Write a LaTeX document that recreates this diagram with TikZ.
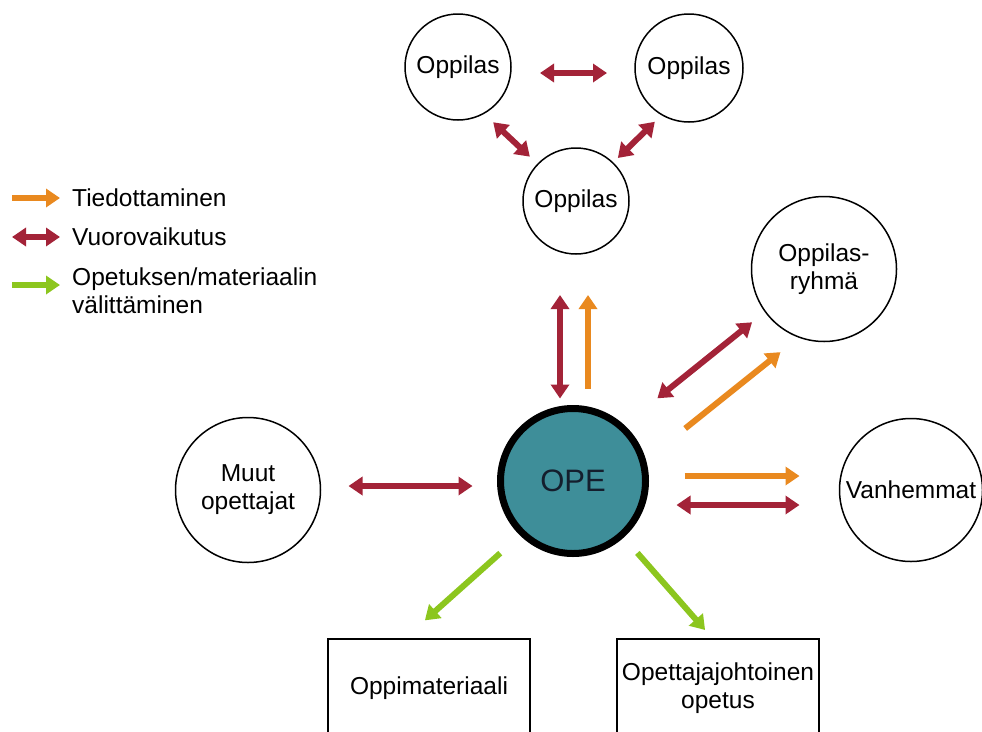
\documentclass[tikz,border=0pt]{standalone}
\usepackage{fontspec}
\setmainfont{Liberation Sans}
\usetikzlibrary{arrows.meta}
\definecolor{infoorange}{RGB}{233,137,31}
\definecolor{intered}{RGB}{163,35,56}
\definecolor{teachgreen}{RGB}{140,198,30}
\definecolor{opeteal}{RGB}{62,142,153}
\definecolor{opetext}{RGB}{20,30,45}
\tikzset{
	circ/.style = {circle, draw, line width = 1.5pt, inner sep = 0pt, outer sep = 0pt, align = center},
	itembox/.style = {rectangle, draw, line width = 1.5pt, minimum width = 202pt, minimum height = 98pt, inner sep = 2pt, outer sep = 0pt, align = center},
	legtext/.style = {anchor = west, inner sep = 0pt, align = left},
	info/.style = {-{Triangle[length = 14pt, width = 18pt]}, line width = 6pt, infoorange},
	inter/.style = {{Triangle[length = 14pt, width = 18pt]}-{Triangle[length = 14pt, width = 18pt]}, line width = 6pt, intered},
	teach/.style = {-{Triangle[length = 14pt, width = 18pt]}, line width = 6pt, teachgreen}
}
\begin{document}
\begin{tikzpicture}[x = 1pt, y = -1pt, font = \fontsize{24.5}{28}\selectfont]
	\useasboundingbox (0,0) rectangle (982,731);
	\clip (0,0) rectangle (982,731);
	% legend
	\node[legtext] (leginfo) at (72,198) {Tiedottaminen};
	\node[legtext] (leginter) at (72,237) {Vuorovaikutus};
	\node[legtext] (legteach) at (72,291) {Opetuksen/materiaalin\\välittäminen};
	\draw[info] ([xshift = -60pt]leginfo.west) -- ([xshift = -12pt]leginfo.west);
	\draw[inter] ([xshift = -60pt]leginter.west) -- ([xshift = -12pt]leginter.west);
	\draw[teach] ([xshift = -60pt, yshift = 6pt]legteach.west) -- ([xshift = -12pt, yshift = 6pt]legteach.west);
	% nodes
	\node[circ, minimum size = 106pt] (opp1) at (458,67) {Oppilas};
	\node[circ, minimum size = 108pt] (opp2) at (689,68) {Oppilas};
	\node[circ, minimum size = 106pt] (opp3) at (576,201) {Oppilas};
	\node[circ, minimum size = 145pt] (ryhma) at (824,269) {Oppilas-\\ryhmä};
	\node[circ, minimum size = 143pt] (vanh) at (911,490) {Vanhemmat};
	\node[circ, minimum size = 145pt] (muut) at (248,490) {Muut\\opettajat};
	\node[circ, line width = 7pt, fill = opeteal, text = opetext, minimum size = 145pt, font = \fontsize{31}{36}\selectfont] (ope) at (573,481) {OPE};
	\node[itembox] (mat) at (429,688) {Oppimateriaali};
	\node[itembox] (lec) at (718,688) {Opettajajohtoinen\\opetus};
	% pupils
	\draw[inter, shorten <= 29pt, shorten >= 28pt] ([yshift = -6pt]opp1.east) -- ([yshift = -5pt]opp2.west);
	\draw[inter, shorten <= 13pt, shorten >= 11pt] (opp1.-61) -- (opp3.136);
	\draw[inter, shorten <= 10pt, shorten >= 7pt] (opp2.240) -- (opp3.46);
	% OPE
	\draw[inter, shorten <= 10pt, shorten >= 41pt] ([xshift = -13pt]ope.north) -- ([xshift = -16pt]opp3.south);
	\draw[info, shorten <= 20pt, shorten >= 41pt] ([xshift = 15pt]ope.north) -- ([xshift = 12pt]opp3.south);
	\draw[inter, shorten <= 46pt, shorten >= 17pt] (ope.48) -- (ryhma.216);
	\draw[info, shorten <= 54pt, shorten >= 24pt] (ope.15) -- (ryhma.250);
	\draw[info, shorten <= 39pt, shorten >= 40pt] ([yshift = 5pt]ope.east) -- ([yshift = 14pt]vanh.west);
	\draw[inter, shorten <= 31pt, shorten >= 40pt] ([yshift = -24pt]ope.east) -- ([yshift = -15pt]vanh.west);
	\draw[inter, shorten <= 28pt, shorten >= 28pt] ([yshift = 4pt]muut.east) -- ([yshift = -5pt]ope.west);
	\draw[teach, shorten <= 30pt, shorten >= 28pt] (ope.226) -- ([xshift = -25pt]mat.north);
	\draw[teach, shorten <= 24pt, shorten >= 12pt] (ope.-48) -- ([xshift = -5pt]lec.north);
\end{tikzpicture}
\end{document}
